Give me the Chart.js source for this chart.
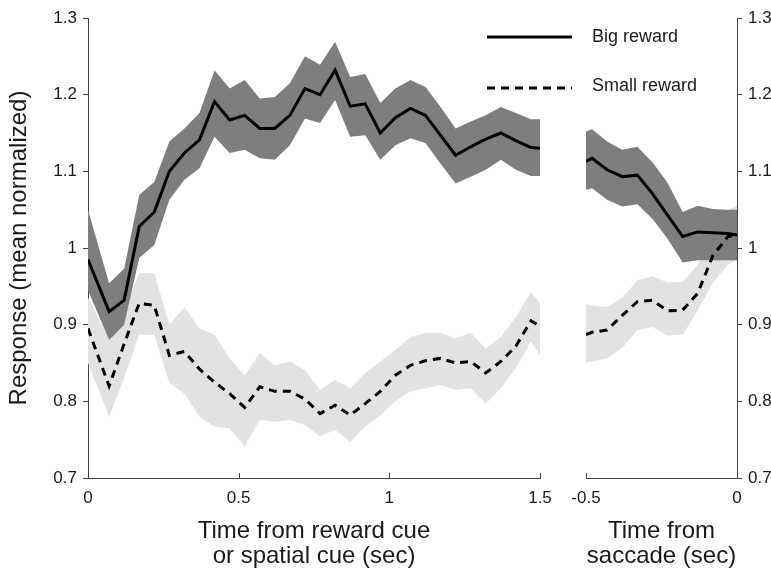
<!DOCTYPE html>
<html>
<head>
<meta charset="utf-8">
<script src="https://cdn.jsdelivr.net/npm/chart.js@4.4.1/dist/chart.umd.min.js"></script>
<style>
  body { margin: 0; background: #fff; }
  #wrap { position: relative; width: 771px; height: 571px; }
  canvas { position: absolute; top: 0; }
  #cue { left: 0; }
  #saccade { left: 560px; }
</style>
</head>
<body>
<div id="wrap">
  <canvas id="cue" width="771" height="571"></canvas>
  <canvas id="saccade" width="211" height="571"></canvas>
</div>
<script>
// tick labels
const yTicks = [0.7, 0.8, 0.9, 1, 1.1, 1.2, 1.3];
const cueTicks = [0, 0.5, 1, 1.5];
const saccadeTicks = [-0.5, 0];

// time from reward cue / spatial cue (sec)
const cueTime = [0, 0.07, 0.12, 0.17, 0.22, 0.27, 0.32, 0.37, 0.42, 0.47, 0.52, 0.57, 0.62, 0.67, 0.72,
    0.77, 0.82, 0.87, 0.92, 0.97, 1.02, 1.07, 1.12, 1.17, 1.22, 1.27, 1.32, 1.37, 1.42, 1.47, 1.5];
const cueBig = [0.985, 0.917, 0.932, 1.028, 1.047, 1.100, 1.124, 1.141, 1.191, 1.167, 1.173, 1.156, 1.156, 1.173, 1.208,
    1.200, 1.232, 1.185, 1.188, 1.150, 1.170, 1.182, 1.173, 1.147, 1.121, 1.132, 1.142, 1.150, 1.140, 1.131, 1.130];
const cueBigHi = [1.050, 0.954, 0.973, 1.069, 1.086, 1.139, 1.156, 1.176, 1.232, 1.208, 1.219, 1.195, 1.197, 1.215, 1.250,
    1.239, 1.269, 1.223, 1.227, 1.189, 1.208, 1.219, 1.210, 1.184, 1.156, 1.165, 1.173, 1.184, 1.176, 1.168, 1.168];
const cueBigLo = [0.945, 0.880, 0.900, 0.987, 1.004, 1.063, 1.089, 1.104, 1.145, 1.124, 1.128, 1.117, 1.115, 1.134, 1.169,
    1.163, 1.193, 1.145, 1.147, 1.115, 1.134, 1.143, 1.137, 1.110, 1.084, 1.093, 1.102, 1.115, 1.102, 1.094, 1.094];
const cueSmall = [0.895, 0.820, 0.875, 0.928, 0.925, 0.860, 0.865, 0.842, 0.825, 0.810, 0.792, 0.819, 0.813, 0.813, 0.803,
    0.784, 0.795, 0.782, 0.797, 0.813, 0.834, 0.847, 0.853, 0.856, 0.850, 0.852, 0.837, 0.852, 0.872, 0.905, 0.898];
const cueSmallHi = [0.935, 0.880, 0.920, 0.967, 0.967, 0.900, 0.923, 0.895, 0.887, 0.856, 0.834, 0.863, 0.847, 0.852, 0.841,
    0.815, 0.828, 0.817, 0.837, 0.852, 0.867, 0.884, 0.889, 0.889, 0.882, 0.889, 0.869, 0.884, 0.910, 0.943, 0.928];
const cueSmallLo = [0.850, 0.780, 0.830, 0.887, 0.887, 0.824, 0.810, 0.780, 0.767, 0.765, 0.741, 0.776, 0.773, 0.776, 0.769,
    0.754, 0.763, 0.747, 0.767, 0.782, 0.800, 0.813, 0.817, 0.821, 0.815, 0.817, 0.797, 0.817, 0.843, 0.878, 0.860];

// time from saccade (sec)
const saccadeTime = [-0.5, -0.48, -0.43, -0.38, -0.33, -0.28, -0.23, -0.18, -0.13, -0.08, -0.03, 0];
const sacBig = [1.113, 1.117, 1.102, 1.093, 1.095, 1.071, 1.043, 1.015, 1.021, 1.020, 1.019, 1.017];
const sacBigHi = [1.152, 1.155, 1.139, 1.128, 1.132, 1.112, 1.085, 1.047, 1.055, 1.051, 1.050, 1.050];
const sacBigLo = [1.076, 1.078, 1.063, 1.054, 1.057, 1.038, 1.012, 0.981, 0.984, 0.984, 0.984, 0.984];
const sacSmall = [0.887, 0.890, 0.893, 0.912, 0.930, 0.932, 0.918, 0.919, 0.941, 0.990, 1.015, 1.017];
const sacSmallHi = [0.926, 0.925, 0.923, 0.935, 0.958, 0.963, 0.955, 0.956, 0.978, 1.020, 1.050, 1.055];
const sacSmallLo = [0.850, 0.852, 0.856, 0.870, 0.893, 0.897, 0.886, 0.887, 0.918, 0.955, 0.978, 0.984];

const FONT = '"Liberation Sans", Arial, Helvetica, sans-serif';
const TEXT = '#1a1a1a';
const AXIS = '#444';
const DARK = '#7e7e7e';
const LIGHT = '#e2e2e2';
const DASH = [8, 6];

function pts(times, vals) {
    return times.map((t, i) => ({ x: t, y: vals[i] }));
}

// first datasets are drawn last (on top)
function makeDatasets(times, big, bigHi, bigLo, small, smallHi, smallLo) {
    const band = { borderWidth: 0, pointRadius: 0, tension: 0 };
    return [
        { label: 'Big reward', data: pts(times, big), borderColor: '#000', borderWidth: 3, pointRadius: 0, fill: false },
        { label: 'Small reward', data: pts(times, small), borderColor: '#000', borderWidth: 3, borderDash: DASH, pointRadius: 0, fill: false },
        Object.assign({ data: pts(times, bigHi), fill: false }, band),
        Object.assign({ data: pts(times, bigLo), fill: '-1', backgroundColor: DARK }, band),
        Object.assign({ data: pts(times, smallHi), fill: false }, band),
        Object.assign({ data: pts(times, smallLo), fill: '-1', backgroundColor: LIGHT }, band)
    ];
}

// ticks on the time axis point up into the plot
const inwardTicks = {
    id: 'inwardTicks',
    afterDraw(chart) {
        const ctx = chart.ctx, sx = chart.scales.x, bottom = chart.chartArea.bottom;
        ctx.save();
        ctx.strokeStyle = AXIS;
        ctx.lineWidth = 1;
        sx.ticks.forEach(t => {
            const px = Math.round(sx.getPixelForValue(t.value)) + 0.5;
            ctx.beginPath();
            ctx.moveTo(px, bottom);
            ctx.lineTo(px, bottom - 5);
            ctx.stroke();
        });
        ctx.restore();
    }
};

// legend with long line samples, top right of the left panel
const lineLegend = {
    id: 'lineLegend',
    afterDraw(chart) {
        const ctx = chart.ctx;
        const x0 = chart.chartArea.right - 53;
        const items = chart.data.datasets.filter(d => d.label);
        ctx.save();
        items.forEach((d, i) => {
            const y = 37 + i * 51;
            ctx.strokeStyle = d.borderColor;
            ctx.lineWidth = d.borderWidth;
            ctx.setLineDash(d.borderDash || []);
            ctx.beginPath();
            ctx.moveTo(x0, y);
            ctx.lineTo(x0 + 85, y);
            ctx.stroke();
            ctx.setLineDash([]);
            ctx.fillStyle = TEXT;
            ctx.font = '18px ' + FONT;
            ctx.textBaseline = 'middle';
            ctx.fillText(d.label, x0 + 105, y - 2 * i);
        });
        ctx.restore();
    }
};

function makeScales(xMin, xMax, xTicks, xTitle, yPos, yWidth, yTitle) {
    return {
        x: {
            type: 'linear', min: xMin, max: xMax,
            afterBuildTicks: s => { s.ticks = xTicks.map(v => ({ value: v })); },
            afterFit: s => { s.height = 93; },
            ticks: { padding: 10, maxRotation: 0, color: TEXT, font: { family: FONT, size: 17 }, callback: v => String(v) },
            grid: { drawOnChartArea: false, drawTicks: false },
            border: { color: AXIS, width: 1 },
            title: { display: true, text: xTitle, color: TEXT, font: { family: FONT, size: 24, lineHeight: 1.05 }, padding: { top: 0, bottom: 2 } }
        },
        y: {
            position: yPos, min: 0.7, max: 1.3,
            afterBuildTicks: s => { s.ticks = yTicks.map(v => ({ value: v })); },
            afterFit: s => { s.width = yWidth; },
            ticks: { padding: 6, color: TEXT, font: { family: FONT, size: 17 }, callback: v => String(v) },
            grid: { drawOnChartArea: false, tickLength: 5, color: AXIS },
            border: { color: AXIS, width: 1 },
            title: { display: !!yTitle, text: yTitle || '', color: TEXT, font: { family: FONT, size: 24 }, padding: { top: 5, bottom: 0 } }
        }
    };
}

function makeChart(id, datasets, scales, padding, plugins) {
    return new Chart(document.getElementById(id).getContext('2d'), {
        type: 'line',
        data: { datasets: datasets },
        options: {
            responsive: false,
            animation: false,
            devicePixelRatio: 1,
            layout: { padding: padding },
            plugins: { legend: { display: false }, tooltip: { enabled: false } },
            scales: scales
        },
        plugins: plugins
    });
}

makeChart('cue',
    makeDatasets(cueTime, cueBig, cueBigHi, cueBigLo, cueSmall, cueSmallHi, cueSmallLo),
    makeScales(0, 1.5, cueTicks, ['Time from reward cue', 'or spatial cue (sec)'], 'left', 88, 'Response (mean normalized)'),
    { top: 18, left: 0, right: 231, bottom: 0 },
    [inwardTicks, lineLegend]);

makeChart('saccade',
    makeDatasets(saccadeTime, sacBig, sacBigHi, sacBigLo, sacSmall, sacSmallHi, sacSmallLo),
    makeScales(-0.5, 0, saccadeTicks, ['Time from', 'saccade (sec)'], 'right', 34, null),
    { top: 18, left: 26, right: 0, bottom: 0 },
    [inwardTicks]);
</script>
</body>
</html>
